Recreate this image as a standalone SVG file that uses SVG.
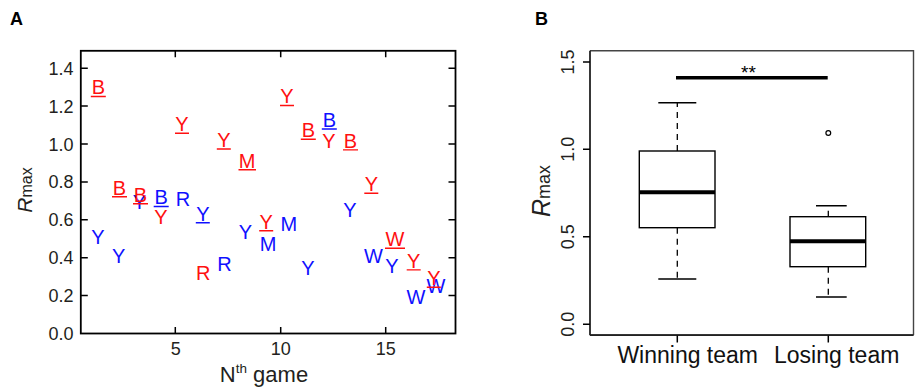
<svg xmlns="http://www.w3.org/2000/svg" width="915" height="392" viewBox="0 0 915 392">
<style>
text{font-family:"Liberation Sans",Arial,sans-serif}
.lt{font-size:20px;text-anchor:middle}
.r{fill:#ff1010}
.b{fill:#1010ff}
.ur{stroke:#ff1010;stroke-width:1.4}
.ub{stroke:#1010ff;stroke-width:1.4}
.tk{font-size:18px;fill:#231f20}
.frame{fill:none;stroke:#000;stroke-width:1.8}
.tick{stroke:#000;stroke-width:1.5}
.box{fill:#fff;stroke:#000;stroke-width:1.4}
.med{stroke:#000;stroke-width:4}
.wh{stroke:#000;stroke-width:1.3;stroke-dasharray:6 5}
.cap{stroke:#000;stroke-width:1.4}
.pl{font-size:18px;font-weight:bold;fill:#000}
</style>

<g id="panelA">
  <text class="pl" x="10" y="25">A</text>
  <g id="axesA">
    <rect class="frame" x="80.8" y="50.8" width="374.7" height="282.7"/>
    <path class="tick" d="M80.8 68.2h7M80.8 106.1h7M80.8 144h7M80.8 181.9h7M80.8 219.8h7M80.8 257.7h7M80.8 295.6h7
      M455.5 68.2h-7M455.5 106.1h-7M455.5 144h-7M455.5 181.9h-7M455.5 219.8h-7M455.5 257.7h-7M455.5 295.6h-7
      M175.3 50.8v6.5M280.7 50.8v6.5M385.7 50.8v6.5M175.3 333.5v-6.5M280.7 333.5v-6.5M385.7 333.5v-6.5"/>
    <g class="tk" text-anchor="end">
      <text x="73.5" y="74.7">1.4</text>
      <text x="73.5" y="112.6">1.2</text>
      <text x="73.5" y="150.5">1.0</text>
      <text x="73.5" y="188.4">0.8</text>
      <text x="73.5" y="226.3">0.6</text>
      <text x="73.5" y="264.2">0.4</text>
      <text x="73.5" y="302.1">0.2</text>
      <text x="73.5" y="340">0.0</text>
    </g>
    <g class="tk" text-anchor="middle">
      <text x="175.8" y="355">5</text>
      <text x="280.7" y="355">10</text>
      <text x="385.7" y="355">15</text>
    </g>
    <text x="264" y="381.7" font-size="22" text-anchor="middle" fill="#231f20">N<tspan font-size="13.5" dy="-8.5">th</tspan><tspan dy="8.5"> game</tspan></text>
    <text transform="translate(31.5 190) rotate(-90)" text-anchor="middle" fill="#231f20"><tspan font-size="21" font-style="italic">R</tspan><tspan font-size="16">max</tspan></text>
  </g>
  <g id="lettersA" class="lt">
    <text class="b" x="139.5" y="209.3">Y</text>
    <text class="b" x="183" y="206">R</text>
    <text class="b" x="97.8" y="244">Y</text>
    <text class="b" x="118.7" y="263.3">Y</text>
    <text class="b" x="224.5" y="271">R</text>
    <text class="b" x="245.5" y="239.3">Y</text>
    <text class="b" x="268" y="250.7">M</text>
    <text class="b" x="288.8" y="230.7">M</text>
    <text class="b" x="307.8" y="275">Y</text>
    <text class="b" x="349.8" y="216.7">Y</text>
    <text class="b" x="373.5" y="263.3">W</text>
    <text class="b" x="392" y="272.7">Y</text>
    <text class="b" x="416" y="304.3">W</text>
    <text class="b" x="436" y="293.3">W</text>
    <text class="b" x="329.3" y="126.7">B</text>
    <text class="b" x="161.2" y="204.3">B</text>
    <text class="b" x="202.8" y="220.5">Y</text>
    <text class="r" x="329" y="148.3">Y</text>
    <text class="r" x="160.8" y="224">Y</text>
    <text class="r" x="203.3" y="280">R</text>
    <text class="r" x="98.3" y="94.3">B</text>
    <text class="r" x="182" y="131">Y</text>
    <text class="r" x="223.8" y="146.8">Y</text>
    <text class="r" x="247.2" y="167.5">M</text>
    <text class="r" x="287" y="103.3">Y</text>
    <text class="r" x="308.3" y="137">B</text>
    <text class="r" x="350.5" y="147.7">B</text>
    <text class="r" x="371.3" y="191">Y</text>
    <text class="r" x="119.5" y="194.5">B</text>
    <text class="r" x="140.5" y="201.5">B</text>
    <text class="r" x="266.2" y="228.5">Y</text>
    <text class="r" x="395" y="246">W</text>
    <text class="r" x="413.7" y="267.7">Y</text>
    <text class="r" x="433.8" y="285">Y</text>
  </g>
  <g id="underlinesA">
    <path class="ub" d="M321.8 129h15M153.7 206.5h15M195.8 222.7h14"/>
    <path class="ur" d="M90.8 96.5h15M175 133.2h14M216.8 149h14M238.5 169.7h17.5M280 105.5h14M300.8 139.2h15M343 149.9h15M364.3 193.2h14M112 196.7h15M133 203.7h15M259.2 230.7h14M385 248.2h20M406.7 269.9h14M426.8 287.2h14"/>
  </g>
</g>

<g id="panelB">
  <text class="pl" x="535" y="25">B</text>
  <g id="axesB">
    <path d="M590 50.8H913.5V335M590 335H913.5" fill="none" stroke="#444" stroke-width="1.4"/>
    <path d="M590 50.8V335.2" stroke="#222" stroke-width="1.8"/>
    <path d="M590 335.2H913.5" stroke="#222" stroke-width="1.8"/>
    <path class="tick" d="M590 62h-7M590 149.3h-7M590 236.7h-7M590 324.3h-7M677.3 335.5v7M828.3 335.5v7"/>
    <g class="tk" text-anchor="middle" font-size="19">
      <text transform="translate(573.5 62) rotate(-90)">1.5</text>
      <text transform="translate(573.5 149.3) rotate(-90)">1.0</text>
      <text transform="translate(573.5 236.7) rotate(-90)">0.5</text>
      <text transform="translate(573.5 324.3) rotate(-90)">0.0</text>
    </g>
    <text transform="translate(549.5 191) rotate(-90)" text-anchor="middle" fill="#231f20"><tspan font-size="25" font-style="italic">R</tspan><tspan font-size="18">max</tspan></text>
    <text x="687.7" y="362.7" font-size="23" text-anchor="middle" fill="#111">Winning team</text>
    <text x="836.7" y="362.7" font-size="23" text-anchor="middle" fill="#111">Losing team</text>
  </g>
  <g id="boxWinning">
    <path class="wh" d="M677.3 151V102.7M677.3 227.7V279"/>
    <path class="cap" d="M658.3 102.7H696.3M658.3 279H696.3"/>
    <rect class="box" x="639.3" y="151" width="75.7" height="76.7"/>
    <path class="med" d="M639.3 192.3H715"/>
  </g>
  <g id="boxLosing">
    <path class="wh" d="M828.3 216.7V205.7M828.3 266.7V297"/>
    <path class="cap" d="M816 205.7H846.7M816 297H846.7"/>
    <rect class="box" x="790" y="216.7" width="75.7" height="50"/>
    <path class="med" d="M790 241.3H865.7"/>
    <circle cx="828.3" cy="133" r="2.4" fill="none" stroke="#000" stroke-width="1.2"/>
  </g>
  <g id="significance">
    <path d="M676 77.8H827.7" stroke="#000" stroke-width="3.6"/>
    <text x="748.5" y="78.8" font-size="19" text-anchor="middle" fill="#000">**</text>
  </g>
</g>
</svg>
